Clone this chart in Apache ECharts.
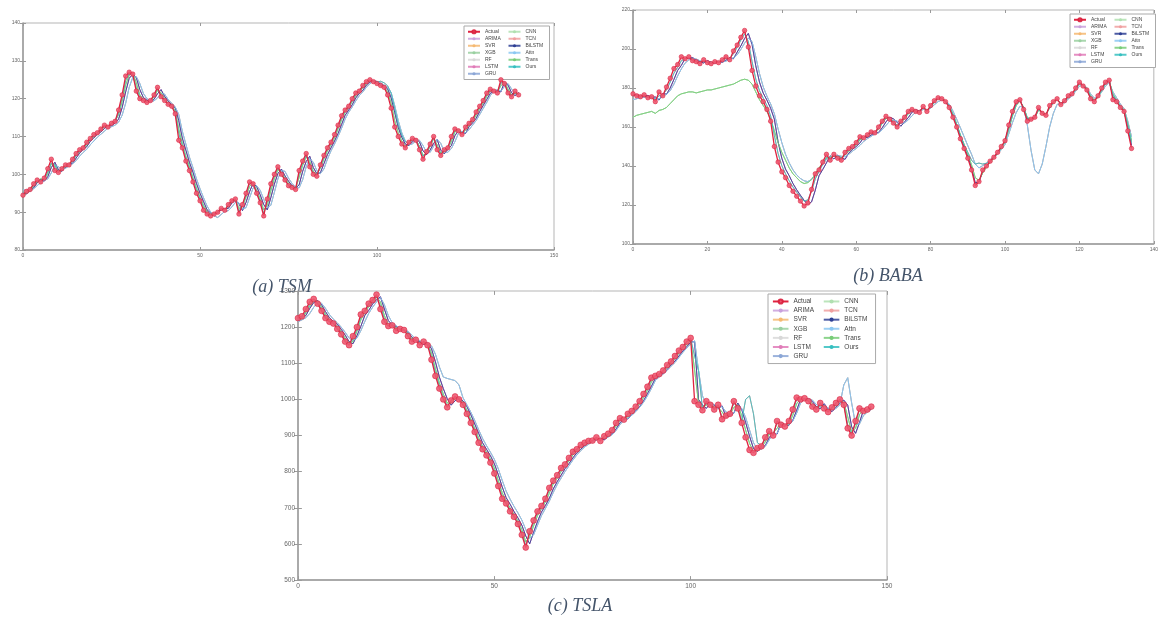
<!DOCTYPE html>
<html>
<head>
<meta charset="utf-8">
<title>Stock price prediction: TSM, BABA, TSLA</title>
<script src="https://cdn.jsdelivr.net/npm/echarts@6/dist/echarts.min.js"></script>
<style>
  html, body { margin: 0; padding: 0; background: #fff; }
  #chart { width: 1161px; height: 621px; }
</style>
</head>
<body>
<div id="chart"></div>
<script>
  // model names shown in the legends (after "Actual")
  const modelNames = ['ARIMA', 'SVR', 'XGB', 'RF', 'LSTM', 'GRU', 'CNN', 'TCN', 'BiLSTM', 'Attn', 'Trans', 'Ours']
  const modelColors = ['#c9a0dc', '#f5b971', '#9ad0a0', '#d8d8d8', '#e07bb8', '#8ba6d6', '#b0e0b0', '#f0a0a0',
                       '#2e3f94', '#8cc8f2', '#78cc78', '#36bfc0']

  // (a) TSM
  const tsmActual = [94.5,95.5,96.0,97.5,98.5,98.0,99.0,101.5,104.0,101.0,
    100.5,101.5,102.5,102.5,104.0,105.5,106.5,107.0,108.5,109.5,
    110.5,111.0,112.0,113.0,112.5,113.5,114.0,117.0,121.0,126.0,
    127.0,126.5,122.0,120.0,119.5,119.0,119.5,121.0,123.0,120.5,
    119.5,118.5,118.0,116.0,109.0,107.0,103.5,101.0,98.0,95.0,
    93.0,90.5,89.5,89.0,89.5,90.0,91.0,90.5,92.0,93.0,
    93.5,89.5,92.0,95.0,98.0,97.5,95.0,92.5,89.0,93.5,
    97.5,100.0,102.0,100.0,98.5,97.0,96.5,96.0,101.0,103.5,
    105.5,102.0,100.0,99.5,102.5,105.0,107.0,108.5,110.5,113.0,
    115.5,117.0,118.0,120.0,121.5,122.0,123.5,124.5,125.0,124.5,
    124.0,123.5,123.0,121.0,117.5,112.5,110.0,108.0,107.0,108.5,
    109.5,109.0,106.5,104.0,106.0,108.0,110.0,106.5,105.0,106.5,
    107.0,110.0,112.0,111.5,110.5,112.5,113.5,114.5,116.5,118.0,
    119.5,121.5,122.5,122.0,121.5,125.0,124.0,121.5,120.5,122.0,
    121.0]
  const tsmPredNavy = [95.0,94.8,95.8,96.4,97.8,98.6,98.2,99.4,101.8,103.2,
    101.2,100.8,101.9,102.6,102.9,104.3,105.6,106.6,107.3,108.7,
    109.6,110.6,111.2,112.1,112.9,112.8,113.6,114.6,117.6,121.8,
    125.4,126.4,125.6,122.4,120.3,119.6,119.2,119.8,121.3,122.4,
    120.6,119.4,118.4,117.6,114.2,109.6,106.4,103.2,100.6,97.6,
    95.0,92.8,90.6,89.8,89.4,89.8,90.6,90.9,91.0,92.4,
    93.2,92.2,90.4,92.6,95.4,97.6,96.8,94.6,92.0,90.6,
    93.8,97.4,100.2,101.4,99.6,98.2,97.0,96.4,97.2,100.8,
    103.4,104.8,101.8,100.2,100.4,102.8,105.2,107.0,108.8,110.8,
    113.2,115.6,117.0,118.4,120.2,121.4,122.2,123.6,124.4,124.8,
    124.4,123.9,123.4,122.6,120.2,116.4,112.4,109.8,108.0,107.6,
    108.6,109.4,108.6,106.2,105.2,106.4,108.2,109.2,106.4,105.4,
    106.6,107.6,110.2,111.6,111.2,110.8,112.6,113.6,114.8,116.6,
    118.2,119.8,121.4,122.2,122.0,121.8,124.4,123.6,121.6,120.8,
    121.6]
  const tsmPredSky = [96.0,95.6,95.4,96.2,97.0,97.8,98.4,98.8,100.4,102.4,
    102.0,101.4,101.6,102.2,102.8,103.6,104.8,105.8,106.6,107.8,
    108.8,109.8,110.6,111.4,112.2,112.6,113.0,113.8,115.6,118.8,
    123.0,125.6,125.8,124.0,121.4,120.0,119.4,119.4,120.2,121.4,
    121.2,119.8,118.8,117.8,115.8,111.4,108.0,104.6,101.8,98.8,
    96.2,93.8,91.6,90.0,89.0,88.6,89.4,90.2,90.4,91.4,
    92.6,92.4,90.8,91.2,93.8,96.4,97.0,95.8,93.4,91.2,
    91.8,95.2,98.8,101.0,100.8,99.0,97.6,96.6,96.4,98.6,
    102.0,104.2,103.2,101.0,100.2,101.4,104.0,106.2,108.0,110.0,
    112.2,114.6,116.4,117.8,119.4,120.8,121.8,123.0,124.0,124.6,
    124.6,124.2,123.6,123.0,121.6,118.2,114.2,111.0,108.8,107.8,
    108.0,109.0,109.0,107.6,105.8,105.8,107.4,109.2,108.2,106.0,
    105.8,106.8,108.6,110.8,111.4,111.0,111.8,113.0,114.2,115.8,
    117.4,119.0,120.8,122.0,122.4,122.0,123.2,124.0,122.6,121.2,
    121.4]
  const tsmPredGreen = [94.0,95.2,95.6,97.0,98.0,98.8,98.6,100.2,102.8,102.2,
    100.8,101.0,102.2,102.8,103.4,105.0,106.0,106.8,107.8,109.0,
    110.0,110.8,111.6,112.6,112.8,113.2,114.0,115.8,119.2,123.6,
    126.2,126.8,124.2,121.0,119.8,119.2,119.4,120.4,122.2,121.6,
    120.0,118.8,118.2,116.8,112.0,108.2,104.8,102.2,99.2,96.4,
    94.0,91.8,90.2,89.4,89.6,90.2,90.8,90.6,91.6,92.8,
    93.4,91.0,91.4,94.0,96.8,97.8,95.8,93.6,90.6,91.8,
    95.6,98.8,101.2,100.6,99.0,97.6,96.8,96.2,99.2,102.4,
    104.6,103.4,100.8,100.0,101.6,104.0,106.2,107.8,109.6,112.0,
    114.4,116.4,117.6,119.2,120.8,121.8,122.8,124.0,124.8,124.6,
    124.2,123.6,123.2,121.8,118.8,114.2,111.0,108.8,107.4,108.0,
    109.2,109.2,107.4,105.0,105.6,107.4,109.4,107.8,105.6,106.0,
    106.8,108.6,111.2,111.8,111.0,111.6,113.0,114.0,115.6,117.4,
    118.8,120.6,122.0,122.2,121.8,123.4,124.4,122.6,121.0,121.4,
    121.2]
  const tsmPredTeal = [95.4,95.0,96.2,97.0,98.2,98.4,98.8,100.6,103.0,102.6,
    100.6,101.2,102.4,102.4,103.6,105.0,106.2,106.8,108.2,109.2,
    110.2,110.8,111.8,112.8,112.6,113.4,113.8,116.2,120.2,124.8,
    126.6,126.2,123.0,120.4,119.6,119.0,119.6,120.8,122.6,120.8,
    119.6,118.6,118.0,116.4,110.8,107.6,104.2,101.6,98.6,95.8,
    93.6,91.2,89.8,89.2,89.6,90.0,91.0,90.6,91.8,93.0,
    93.4,90.2,91.8,94.6,97.6,97.4,95.4,92.8,89.6,92.8,
    96.8,99.6,101.8,100.2,98.6,97.2,96.6,96.2,100.2,103.0,
    105.0,102.6,100.4,99.8,102.0,104.6,106.8,108.4,110.2,112.6,
    115.0,116.8,117.8,119.6,121.2,122.0,123.2,124.2,124.8,124.6,
    124.4,124.6,124.2,123.4,121.4,117.4,113.2,110.4,108.6,108.2,
    109.0,109.2,107.2,104.8,105.8,107.6,109.6,107.2,105.4,106.2,
    107.0,109.4,111.6,111.6,110.8,112.2,113.4,114.4,116.2,117.8,
    119.2,121.0,122.2,122.0,121.6,124.2,124.2,122.0,120.8,121.8,
    121.2]

  // (b) BABA
  const babaActual = [177,176,175.5,176.5,175,175.5,173,178,176,180.5,
    185,190,192,196,195,196,194,193.5,192.5,194.5,
    193,192.5,193.5,193,194.5,196,194.5,199,202,206,
    209.5,201,189,181,176,173,169,163,150,142,
    137,134,130,127,124.5,122,119.5,121,128,136,
    138,142,146,143,146,144,143,147,149,150,
    152,155,154.5,156,157.5,157,160,163,165.5,164,
    162,160,163,165,168,169,168,167.5,170.5,168,
    171,173.5,175,174.5,173,170,165,160,154,149,
    144,138,130,132,138,140,142.5,144.5,147,150,
    153,161,168,173,174,169,163,164,165,170,
    167,166,171,173,174.5,171.5,173.5,176,177,180,
    183,181,179,174.5,173,176,180,183,184,174,
    173,170,168,158,149]
  const babaPredNavy = [176,176.6,176,175.8,176.2,175.2,175.4,173.8,177.2,176.8,
    180,184.4,189,191.6,195.2,195.2,195.6,194.4,193.6,192.8,
    194,193.2,192.8,193.4,193.2,194.2,195.6,195,198.4,201.6,
    205.4,208,202.4,191.4,183,177.4,173.8,169.6,164,152.4,
    144,138.4,135,131,127.8,125,122.4,120.2,121.6,127.6,
    135,138.2,141.6,145.2,143.6,145.6,144.2,143.4,146.6,148.6,
    150,151.8,154.6,154.6,155.8,157.2,157.2,159.6,162.6,165,
    164.2,162.4,160.4,162.6,164.8,167.6,168.8,168.2,170,168.4,
    170.4,173,174.8,174.6,173.2,170.6,165.8,160.8,155,150,
    145,139,131.4,131.8,137,139.8,142.2,144.2,146.6,149.6,
    152.6,160,167,172,173.8,169.8,164,163.8,164.8,169.2,
    167.4,166.2,170.4,172.6,174.2,172,173.2,175.6,176.8,179.6,
    182.6,181.4,179.4,175.2,173.4,175.6,179.4,182.6,183.8,175.6,
    173.4,170.4,168.4,159.6,150.6]
  const babaPredSky = [174,174.5,175,175.2,175.4,175,174.6,174.4,175.8,176.8,
    178.6,182,186.2,189.8,192.8,194.4,195.2,194.8,194,193.4,
    193.4,193.2,193,193.2,193.4,193.8,194.8,195.4,197,199.8,
    203,205.6,203.8,196,187.4,180.6,175.8,171.8,166.8,159,
    152,146,141.6,138,135.4,133.6,132.4,132,133.2,135.6,
    138.4,140.8,143.4,145,145,145.4,145,144.8,146,147.6,
    149,150.6,152.6,154,155.2,156.4,157,158.6,160.8,163,
    163.6,163,161.8,162.2,163.6,165.8,167.6,168,169,168.6,
    169.6,171.4,173,173.8,173.4,171.8,168.2,164,159.6,155,
    150.4,146,141,139,140.2,141.4,142.8,144,146,148.4,
    151,156.4,162.2,167.4,170.6,170,161,148,138,136,
    141,150,160,167,171.6,172,172.4,174.4,176,178.4,
    181,181.4,180.2,177,174.8,175.4,178,181,182.8,178,
    175,171.8,169.4,163,155]
  const babaPredGreen = [165,166,166.5,167,167.5,168,167,168.5,169,170,
    172,174,176,177,177.5,178,178,177.5,178,178.5,
    179,179,179.5,180,180.5,181,181.5,182,183,184,
    184.5,184,182,178,174,171,168,164,158,152,
    147,143,139,136,134,132,131,131.5,133,136,
    139,141.5,144,144.5,145,145,144.2,145.6,147.6,149.2,
    150.8,153.4,154.2,155.4,156.8,157,159,161.8,164.4,164.2,
    162.6,160.8,162.2,164.2,166.8,168.4,168.2,167.8,169.8,168.6,
    170.2,172.6,174.4,174.6,173.4,170.8,166.6,161.6,156,151,
    146,140.6,134,132.6,136.4,139.4,141.8,144,146.4,149.2,
    152.2,158.6,165.6,171,173.4,170.2,164.8,163.8,164.8,168.6,
    167.6,166.4,169.8,172.4,174,172.4,173.2,175.4,176.8,179.2,
    182.2,181.6,179.8,176,173.8,175.2,178.8,182.2,183.8,177,
    173.8,170.8,168.8,161.8,153]
  const babaPredTeal = [176.5,176,175.6,176,175.6,175.4,174.2,176,176.6,179,
    183,187.6,190.6,194,195,195.6,194.8,193.8,193,193.8,
    193.4,192.8,193.2,193.2,194,195.2,195,197.6,200.8,204.6,
    207.8,203.8,193.6,184.6,178.6,174.8,171,165.6,155.6,146.4,
    140.2,136,132.4,129.2,126.6,124.2,122,122.6,127,133.4,
    137.2,140.8,144.4,143.8,145.2,144.4,143.6,146,148.2,149.6,
    151.4,154,154.6,155.6,157,157.2,159.2,162,164.8,164.4,
    162.8,160.8,162.4,164.4,167.2,168.6,168.2,168,170,168.6,
    170.4,172.8,174.6,174.6,173.4,170.8,166.4,161.4,155.8,151,
    147,143,141,141.5,141,141.4,143,144.8,147,149.6,
    152.6,159.2,166.2,171.4,173.4,170,164.6,164.2,165,168.8,
    167.4,166.4,170,172.4,174,172.2,173.4,175.6,176.8,179.4,
    182.4,181.4,179.6,175.6,173.6,175.4,179,182.4,183.6,176.4,
    173.6,170.6,168.6,161,152]

  // (c) TSLA
  const tslaActual = [1225,1230,1250,1270,1278,1265,1245,1225,1215,1210,
    1195,1180,1160,1150,1175,1200,1235,1245,1265,1275,
    1290,1250,1215,1203,1205,1190,1195,1192,1175,1160,
    1165,1150,1160,1150,1110,1065,1030,1000,978,997,
    1008,1000,985,960,935,910,880,862,845,825,
    795,760,725,712,690,675,655,625,590,635,
    665,690,705,725,755,775,790,810,820,838,
    855,862,874,880,885,886,895,885,898,905,
    915,935,948,944,960,968,980,995,1015,1035,
    1060,1065,1070,1080,1095,1105,1120,1135,1145,1160,
    1170,995,985,970,995,985,972,985,945,955,
    960,995,975,935,895,860,852,865,870,895,
    912,900,940,930,925,940,972,1005,1000,1003,
    995,980,972,990,975,965,978,990,1000,985,
    920,900,940,975,968,972,980]
  const tslaPredNavy = [1218,1226,1232,1252,1268,1274,1262,1243,1226,1216,
    1208,1194,1178,1160,1154,1176,1202,1232,1246,1264,
    1276,1284,1250,1218,1206,1202,1192,1193,1186,1172,
    1162,1160,1152,1156,1140,1104,1062,1030,1002,984,
    996,1004,996,980,958,932,906,880,862,844,
    822,792,758,728,710,690,672,652,622,600,
    632,662,688,706,726,752,772,790,808,822,
    838,852,862,872,880,884,888,892,888,897,
    905,918,935,946,946,958,968,980,996,1016,
    1036,1058,1064,1072,1082,1096,1106,1120,1134,1146,
    1158,1160,1000,984,975,990,984,975,982,950,
    955,962,990,972,936,898,864,856,866,872,
    894,908,904,936,930,928,942,970,1000,1000,
    1002,994,980,974,988,974,966,978,990,998,
    984,924,906,936,970,968,974]
  const tslaPredSky = [1215,1220,1226,1238,1255,1268,1266,1252,1235,1222,
    1212,1200,1186,1170,1162,1170,1190,1215,1238,1255,
    1270,1282,1262,1232,1212,1204,1196,1194,1188,1178,
    1168,1162,1156,1156,1148,1125,1090,1062,1058,1055,
    1052,1040,1005,985,965,942,916,892,872,854,
    834,808,776,746,724,704,686,666,640,615,
    625,652,678,698,718,742,764,782,800,816,
    832,846,858,868,876,882,888,892,892,896,
    902,914,930,942,948,956,966,978,992,1010,
    1030,1052,1062,1070,1080,1092,1102,1116,1130,1142,
    1154,1162,1080,1010,985,988,986,978,980,965,
    960,962,982,975,950,915,880,862,862,870,
    888,904,906,928,930,930,940,962,990,1000,
    1002,998,986,978,984,976,970,975,985,1040,
    1060,990,930,932,955,965,972]
  const tslaPredGreen = [1230,1222,1240,1258,1272,1272,1256,1236,1220,1212,
    1202,1188,1170,1156,1160,1188,1220,1240,1256,1270,
    1282,1270,1232,1208,1204,1198,1192,1194,1182,1168,
    1162,1156,1156,1154,1128,1085,1046,1015,990,990,
    1002,1004,992,970,946,920,894,870,854,835,
    810,776,742,718,700,682,664,640,606,618,
    650,678,698,716,740,766,782,800,815,830,
    846,858,868,876,882,886,890,890,892,900,
    910,926,942,946,952,964,974,988,1005,1025,
    1048,1062,1068,1076,1088,1100,1112,1128,1140,1152,
    1165,1082,990,978,984,990,978,978,965,950,
    958,978,985,955,915,878,856,858,868,882,
    904,906,920,935,928,932,956,988,1002,1002,
    999,988,976,982,982,970,972,984,995,992,
    952,910,920,958,972,970,976]
  const tslaPredTeal = [1222,1228,1244,1264,1276,1268,1250,1230,1218,1212,
    1198,1184,1164,1152,1168,1194,1228,1244,1260,1272,
    1286,1258,1222,1205,1204,1193,1194,1192,1178,1163,
    1164,1152,1158,1152,1118,1074,1038,1006,982,994,
    1006,1000,988,964,940,914,886,866,848,828,
    800,766,732,714,694,678,658,630,596,628,
    660,686,702,722,750,772,788,806,818,835,
    852,860,872,879,884,886,893,887,896,904,
    913,932,946,945,958,966,978,993,1012,1032,
    1056,1064,1069,1079,1093,1103,1118,1133,1143,1158,
    1168,1120,1080,975,990,986,975,982,950,954,
    960,990,978,940,1000,1010,960,880,872,890,
    908,902,935,932,926,938,968,1000,1001,1002,
    996,982,974,986,976,967,976,988,998,986,
    930,905,935,972,968,971,979]

  const panels = [
    {
      caption: '(a) TSM', captionAt: [282, 287],
      grid: { left: 23, top: 23, width: 531, height: 227 },
      xMax: 150, xStep: 50, yMin: 80, yMax: 140, yStep: 10,
      actual: tsmActual, preds: [tsmPredNavy, tsmPredSky, tsmPredGreen, tsmPredTeal],
      legendAt: { left: 464, top: 26 }, s: 1,
    },
    {
      caption: '(b) BABA', captionAt: [888, 276],
      grid: { left: 633, top: 10, width: 524, height: 234 },
      xMax: 140, xStep: 20, yMin: 100, yMax: 220, yStep: 20,
      actual: babaActual, preds: [babaPredNavy, babaPredSky, babaPredGreen, babaPredTeal],
      legendAt: { left: 1070, top: 14 }, s: 1,
    },
    {
      caption: '(c) TSLA', captionAt: [580, 606],
      grid: { left: 298, top: 291, width: 589, height: 289 },
      xMax: 150, xStep: 50, yMin: 500, yMax: 1300, yStep: 100,
      actual: tslaActual, preds: [tslaPredNavy, tslaPredSky, tslaPredGreen, tslaPredTeal],
      legendAt: { left: 768, top: 294 }, s: 1.3,
    },
  ]

  const axisGray = '#9a9a9a'
  const labelGray = '#666'

  const grids = [], xAxes = [], yAxes = [], legends = [], series = [], captions = []

  panels.forEach((p, k) => {
    grids.push({ ...p.grid, show: true, borderColor: '#b5b5b5', borderWidth: 1 })

    const tickStyle = { show: true, inside: true, length: 3 * p.s, lineStyle: { color: axisGray } }
    const lbl = { fontSize: 5 * p.s, color: labelGray, fontFamily: 'Liberation Sans', margin: 3, formatter: (v) => String(v) }

    xAxes.push(
      {
        gridIndex: k, type: 'value', min: 0, max: p.xMax, interval: p.xStep,
        axisLine: { onZero: false, lineStyle: { color: axisGray, width: 1.5 } },
        axisTick: tickStyle, axisLabel: lbl, splitLine: { show: false },
      },
      {
        gridIndex: k, type: 'value', position: 'top', min: 0, max: p.xMax, interval: p.xStep,
        axisLine: { show: false }, axisTick: tickStyle, axisLabel: { show: false }, splitLine: { show: false },
      }
    )
    yAxes.push(
      {
        gridIndex: k, type: 'value', min: p.yMin, max: p.yMax, interval: p.yStep,
        axisLine: { show: true, onZero: false, lineStyle: { color: axisGray, width: 1.5 } },
        axisTick: tickStyle, axisLabel: lbl, splitLine: { show: false },
      },
      {
        gridIndex: k, type: 'value', position: 'right', min: p.yMin, max: p.yMax, interval: p.yStep,
        axisLine: { show: false }, axisTick: tickStyle, axisLabel: { show: false }, splitLine: { show: false },
      }
    )

    legends.push({
      orient: 'vertical', left: p.legendAt.left, top: p.legendAt.top,
      height: 48 * p.s, padding: [3 * p.s, 3 * p.s],
      itemWidth: 12 * p.s, itemHeight: 4 * p.s, itemGap: 1.5 * p.s,
      backgroundColor: '#fff', borderColor: '#aaa', borderWidth: 1,
      selectedMode: false,
      textStyle: { fontSize: 5 * p.s, lineHeight: 5.5 * p.s, width: 21 * p.s, color: '#444', fontFamily: 'Liberation Sans' },
      data: ['Actual', ...modelNames],
    })

    // model predictions (drawn under the actual series)
    modelNames.forEach((name, m) => {
      series.push({
        name, type: 'line', xAxisIndex: k * 2, yAxisIndex: k * 2,
        data: p.preds[m % 4].map((v, i) => [i, v]),
        showSymbol: false, symbol: 'none', z: 2,
        lineStyle: { width: 1, color: modelColors[m], opacity: 0.85 },
        itemStyle: { color: modelColors[m] },
      })
    })

    series.push({
      name: 'Actual', type: 'line', xAxisIndex: k * 2, yAxisIndex: k * 2,
      data: p.actual.map((v, i) => [i, v]),
      symbol: 'circle', symbolSize: 4.5 * p.s, showAllSymbol: true, z: 4,
      lineStyle: { width: 1.3, color: '#e0223f' },
      itemStyle: { color: '#ee5a72', borderColor: '#d81e3c', borderWidth: 0.6, opacity: 0.9 },
    })

    captions.push({
      type: 'text', x: p.captionAt[0], y: p.captionAt[1],
      style: {
        text: p.caption, fill: '#44546a', align: 'center', verticalAlign: 'middle',
        font: 'italic 18px "Liberation Serif", serif',
      },
    })
  })

  const chart = echarts.init(document.getElementById('chart'))
  chart.setOption({
    animation: false,
    backgroundColor: '#fff',
    grid: grids,
    xAxis: xAxes,
    yAxis: yAxes,
    legend: legends,
    series,
    graphic: captions,
  })
</script>
</body>
</html>
